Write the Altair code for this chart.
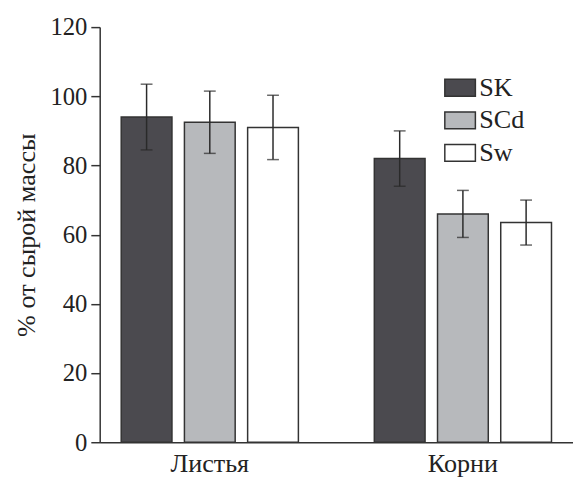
import altair as alt
import pandas as pd

groups = ["Листья", "Листья", "Листья", "Корни", "Корни", "Корни"]
series = ["SK", "SCd", "Sw", "SK", "SCd", "Sw"]
values = [94, 92.5, 91, 82, 66, 63.5]
errors = [9.5, 9.0, 9.3, 8.0, 6.8, 6.5]

group_order = ["Листья", "Корни"]
series_order = ["SK", "SCd", "Sw"]
series_colors = ["#4b4a4f", "#b7b9bc", "#ffffff"]
y_ticks = [0, 20, 40, 60, 80, 100, 120]

df = pd.DataFrame({"group": groups, "series": series, "value": values, "err": errors})
df["lo"] = df["value"] - df["err"]
df["hi"] = df["value"] + df["err"]

FONT = "Liberation Serif, Times New Roman, serif"

x = alt.X("group:N", sort=group_order,
          scale=alt.Scale(paddingInner=0.25, paddingOuter=0.06),
          axis=alt.Axis(title=None, labelAngle=0, ticks=False, labelPadding=9,
                        labelFontSize=26.5))
xoff = alt.XOffset("series:N", sort=series_order,
                   scale=alt.Scale(paddingInner=0.197, paddingOuter=0.1))

base = alt.Chart(df)

bars = base.mark_bar(stroke="#333333", strokeWidth=1.5).encode(
    x=x,
    xOffset=xoff,
    y=alt.Y("value:Q", scale=alt.Scale(domain=[0, 120]),
            axis=alt.Axis(values=y_ticks, tickSize=9, grid=False, labelFontSize=25,
                          title="% от сырой массы", titlePadding=10, labelPadding=4,
                          titleFontSize=26.5)),
    color=alt.Color("series:N", sort=series_order,
                    scale=alt.Scale(domain=series_order, range=series_colors),
                    legend=alt.Legend(title=None, orient="none", legendX=349, legendY=45,
                                      symbolType="M-1,-0.55H1V0.55H-1Z", symbolSize=961,
                                      symbolStrokeColor="#333333", symbolStrokeWidth=1.5,
                                      labelFont=FONT, labelFontSize=26.5, labelColor="#222222",
                                      rowPadding=3, labelOffset=3)),
)

rules = base.mark_rule(color="#2a2a2a", strokeWidth=1.5).encode(
    x=x, xOffset=xoff, y="lo:Q", y2="hi:Q")
caps_lo = base.mark_tick(color="#2a2a2a", thickness=1.5, size=12).encode(
    x=x, xOffset=xoff, y="lo:Q")
caps_hi = base.mark_tick(color="#2a2a2a", thickness=1.5, size=12).encode(
    x=x, xOffset=xoff, y="hi:Q")

chart = alt.layer(bars, rules, caps_lo, caps_hi).properties(
    width=480, height=421, padding={"top": 4, "left": 5, "right": 0, "bottom": 5}
).configure_view(stroke=None).configure_axis(
    domainColor="#333333", tickColor="#333333", domainWidth=1.5, tickWidth=1.5,
    labelFont=FONT, labelColor="#222222",
    titleFont=FONT, titleFontWeight="normal", titleColor="#222222"
)

chart.save("out.html", embed_options={"renderer": "svg", "actions": False})
